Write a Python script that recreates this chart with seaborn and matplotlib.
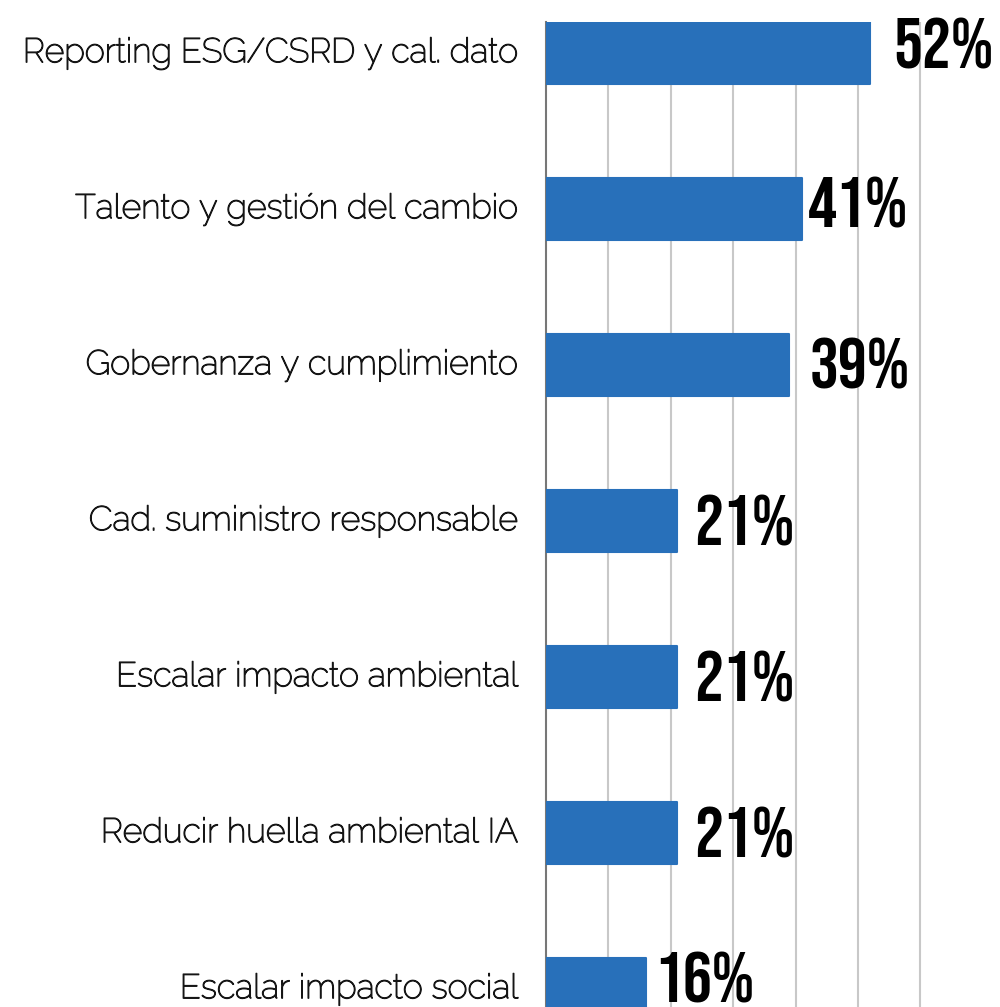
import matplotlib
matplotlib.use("Agg")
import matplotlib.pyplot as plt
import matplotlib.patheffects as pe
import seaborn as sns
import pandas as pd

categories = ["Reporting ESG/CSRD y cal. dato", "Talento y gestión del cambio",
              "Gobernanza y cumplimiento", "Cad. suministro responsable",
              "Escalar impacto ambiental", "Reducir huella ambiental IA",
              "Escalar impacto social"]
values = [52, 41, 39, 21, 21, 21, 16]
value_labels = ["52%", "41%", "39%", "21%", "21%", "21%", "16%"]

sns.set_theme(style="white")
plt.rcParams['font.family'] = ['Raleway', 'DejaVu Sans']

df = pd.DataFrame({"cat": categories, "val": values})

fig = plt.figure(figsize=(10, 10.07), dpi=100)
W, H = 1000, 1007
left, top = 546, 22
ax = fig.add_axes([left / W, 0, 405.6 / W, (H - top) / H])

bar_color = "#2870ba"
sns.barplot(data=df, x="val", y="cat", orient="h", color=bar_color,
            width=0.4, saturation=1, ax=ax, zorder=3)
for p in ax.patches:
    p.set_edgecolor(bar_color)
    p.set_linewidth(1.5)
    p.set_joinstyle("round")

ax.set_xlim(0, 65)
ax.set_ylim(-0.2 + (H - top) / 156.0, -0.2)
ax.set_xticks([10, 20, 30, 40, 50, 60])
ax.set_xticklabels([])
ax.xaxis.grid(True, color="#c8c8c8", linewidth=1.5, zorder=0)
ax.yaxis.grid(False)
ax.set_axisbelow(True)
for s in ["top", "right", "bottom"]:
    ax.spines[s].set_visible(False)
ax.spines["left"].set_color("#777777")
ax.spines["left"].set_linewidth(1.5)
ax.set_xlabel("")
ax.set_ylabel("")
ax.tick_params(axis="y", length=0, pad=20, labelsize=24.5, labelcolor="#151515")
for t in ax.get_yticklabels():
    t.set_path_effects([pe.withStroke(linewidth=0.9, foreground="#151515")])
    t.set_verticalalignment("center")
ax.tick_params(axis="x", length=0)

# label placement tweaks (pixels): horizontal gap and vertical shift of text centre
dx_px = [23, 6, 20, 17, 17, 17, 8]
dy_px = [-10, -7, -2, -1, -1, -1, -12]
cap_px = 50.6
for i, (v, lab) in enumerate(zip(values, value_labels)):
    ax.annotate(lab, xy=(v, i),
                xytext=(dx_px[i] * 0.72, -(cap_px / 2 + dy_px[i]) * 0.72),
                textcoords="offset points", ha="left", va="baseline",
                fontsize=52, fontweight="bold",
                color="#000000", family=["Bebas Neue", "Oswald", "DejaVu Sans"],
                annotation_clip=False, zorder=5)

fig.savefig("out.png", dpi=100)
